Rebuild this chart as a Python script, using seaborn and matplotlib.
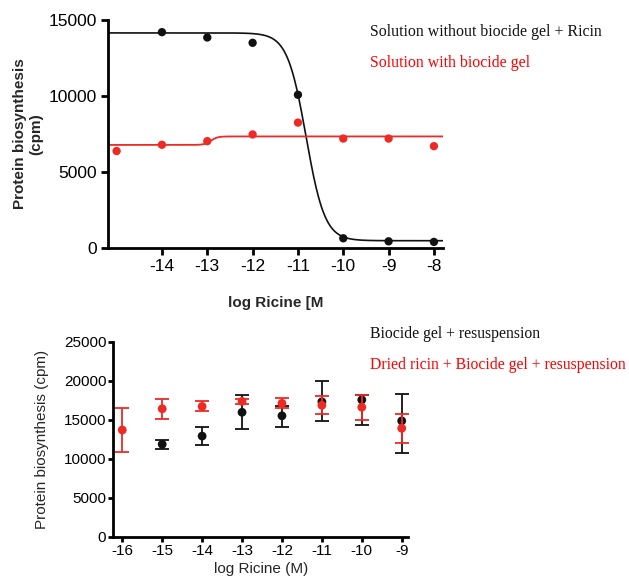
import numpy as np
import pandas as pd
import matplotlib
matplotlib.use("Agg")
import matplotlib.pyplot as plt
import seaborn as sns

# ---- top panel: ricin in solution, with / without biocide gel ----
no_gel_dose = [-14, -13, -12, -11, -10, -9, -8]
no_gel_cpm = [14200, 13850, 13500, 10080, 640, 440, 400]
gel_dose = [-15, -14, -13, -12, -11, -10, -9, -8]
gel_cpm = [6380, 6790, 7030, 7470, 8250, 7200, 7200, 6700]

# 4-parameter logistic fits: (left plateau, right plateau, logEC50, hill)
no_gel_fit = (14150, 480, -10.82, 2.1)
gel_fit = (6780, 7340, -12.92, 6.0)

# ---- bottom panel: biocide gel + resuspension ----
bot_ticks = [-16, -15, -14, -13, -12, -11, -10, -9]
resusp_dose = [-15, -14, -13, -12, -11, -10, -9]
resusp_cpm = [11850, 12900, 15950, 15500, 17300, 17550, 14850]
resusp_err_lo = [570, 1190, 2150, 1400, 2440, 3190, 4170]
resusp_err_hi = [590, 1120, 2210, 1200, 2650, 600, 3400]
dried_dose = [-16, -15, -14, -13, -12, -11, -10, -9]
dried_cpm = [13680, 16400, 16700, 17350, 17100, 16850, 16600, 13900]
dried_err_lo = [2830, 1270, 590, 350, 560, 1170, 1580, 1840]
dried_err_hi = [2860, 1290, 700, 350, 640, 1180, 1580, 1880]

BLACK = "#111111"
RED = "#ee2a24"

sns.set_style("ticks")
plt.rcParams["font.family"] = ["Liberation Sans", "DejaVu Sans"]
plt.rcParams["axes.unicode_minus"] = False


def logistic(x, left, right, logec50, hill):
    return right + (left - right) / (1 + 10 ** ((x - logec50) * hill))


def style_axes(ax, lw, ticklen, fs, pad):
    sns.despine(ax=ax)
    for s in ("left", "bottom"):
        ax.spines[s].set_linewidth(lw)
        ax.spines[s].set_color("black")
    ax.tick_params(axis="both", direction="out", length=ticklen, width=lw,
                   labelsize=fs, pad=pad, colors="black")


fig = plt.figure(figsize=(6.29, 5.78), dpi=100)

# top panel
ax1 = fig.add_axes([108 / 629, 1 - 248 / 578, 335 / 629, 228 / 578])
xlim1 = (-15.19, -7.8)
xs = np.linspace(xlim1[0], xlim1[1], 600)
curves = pd.DataFrame({"x": xs,
                       "no_gel": logistic(xs, *no_gel_fit),
                       "gel": logistic(xs, *gel_fit)})
sns.lineplot(data=curves, x="x", y="no_gel", ax=ax1, color=BLACK, lw=1.2)
sns.lineplot(data=curves, x="x", y="gel", ax=ax1, color=RED, lw=1.3)
sns.scatterplot(x=no_gel_dose, y=no_gel_cpm, ax=ax1, color=BLACK, s=36,
                edgecolor="none", zorder=3)
sns.scatterplot(x=gel_dose, y=gel_cpm, ax=ax1, color=RED, s=36,
                edgecolor="none", zorder=4)
ax1.set_xlim(*xlim1)
ax1.set_ylim(0, 15000)
ax1.set_xticks([-14, -13, -12, -11, -10, -9, -8])
ax1.set_yticks([0, 5000, 10000, 15000])
style_axes(ax1, 2.0, 5, 12.5, 3)
ax1.set_xlabel("log Ricine [M", fontsize=11, fontweight="bold", labelpad=16)
ax1.set_ylabel("Protein biosynthesis\n(cpm)", fontsize=11, fontweight="bold",
               labelpad=4)
fig.text(370 / 629, 1 - 32 / 578, "Solution without biocide gel + Ricin",
         family="Liberation Serif", fontsize=11.4, color=BLACK, va="center")
fig.text(370 / 629, 1 - 63 / 578, "Solution with biocide gel",
         family="Liberation Serif", fontsize=11.4, color="#ff0000", va="center")

# bottom panel
ax2 = fig.add_axes([113.3 / 629, 1 - 536.7 / 578, 295 / 629, 195 / 578])
ax2.errorbar(resusp_dose, resusp_cpm, yerr=[resusp_err_lo, resusp_err_hi],
             fmt="none", ecolor=BLACK, elinewidth=1.3, capsize=5, capthick=1.3,
             zorder=2)
sns.scatterplot(x=resusp_dose, y=resusp_cpm, ax=ax2, color=BLACK, s=40,
                edgecolor="none", zorder=3)
ax2.errorbar(dried_dose, dried_cpm, yerr=[dried_err_lo, dried_err_hi],
             fmt="none", ecolor=RED, elinewidth=1.3, capsize=5, capthick=1.3,
             zorder=4)
sns.scatterplot(x=dried_dose, y=dried_cpm, ax=ax2, color=RED, s=40,
                edgecolor="none", zorder=5)
ax2.set_xlim(-16.225, -8.835)
ax2.set_ylim(0, 25000)
ax2.set_xticks(bot_ticks)
ax2.set_yticks([0, 5000, 10000, 15000, 20000, 25000])
style_axes(ax2, 2.0, 3.5, 11, 1.5)
ax2.set_xlabel("log Ricine (M)", fontsize=11, labelpad=3)
ax2.set_ylabel("Protein biosynthesis (cpm)", fontsize=11, labelpad=11)
fig.text(370 / 629, 1 - 334 / 578, "Biocide gel + resuspension",
         family="Liberation Serif", fontsize=11.3, color=BLACK, va="center")
fig.text(370 / 629, 1 - 365 / 578, "Dried ricin + Biocide gel + resuspension",
         family="Liberation Serif", fontsize=11.3, color="#ff0000", va="center")

fig.savefig("out.png", dpi=100)
